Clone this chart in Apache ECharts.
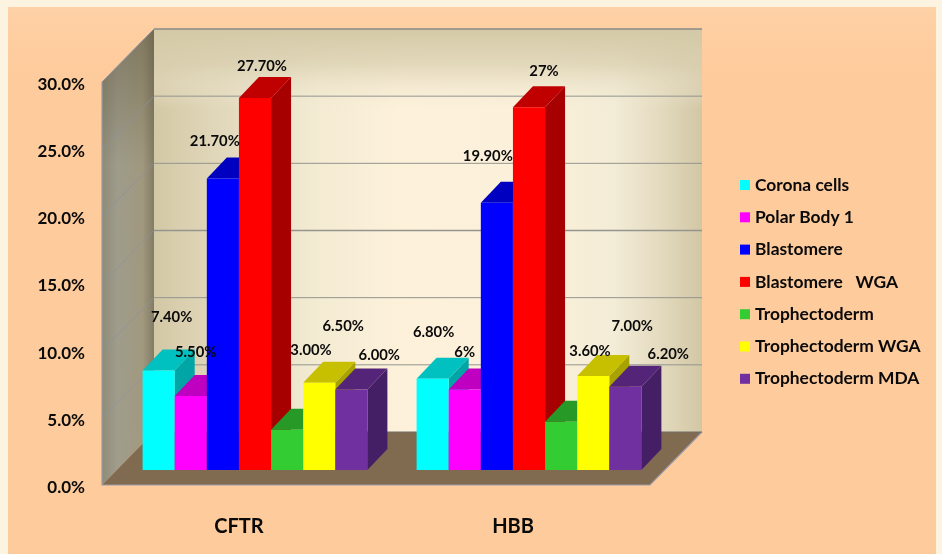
<!DOCTYPE html>
<html>
<head>
<meta charset="utf-8">
<style>
  html, body { margin: 0; padding: 0; background: #fcf3e0; }
  #chart { width: 942px; height: 554px; }
</style>
<script src="https://cdn.jsdelivr.net/npm/echarts@6/dist/echarts.min.js"></script>
</head>
<body>
<div id="chart"></div>
<script>
// Amplification rates per sample type, for the two genes.
const genes = ['CFTR', 'HBB'];
const seriesNames = ['Corona cells', 'Polar Body 1', 'Blastomere', 'Blastomere   WGA',
  'Trophectoderm', 'Trophectoderm WGA', 'Trophectoderm MDA'];
const coronaCells = [7.4, 6.8];
const polarBody1 = [5.5, 6];
const blastomere = [21.7, 19.9];
const blastomereWga = [27.7, 27];
const trophectoderm = [3, 3.6];
const trophectodermWga = [6.5, 7];
const trophectodermMda = [6, 6.2];
const cftrLabels = ['7.40%', '5.50%', '21.70%', '27.70%', '3.00%', '6.50%', '6.00%'];
const hbbLabels = ['6.80%', '6%', '19.90%', '27%', '3.60%', '7.00%', '6.20%'];
const valueTicks = [0, 5, 10, 15, 20, 25, 30];

const seriesValues = [coronaCells, polarBody1, blastomere, blastomereWga,
  trophectoderm, trophectodermWga, trophectodermMda];
const geneLabels = [cftrLabels, hbbLabels];

// Face colours of each box: front, top, right side.
const faceColors = [
  ['#00ffff', '#00c0c0', '#00a6a6'],
  ['#ff00ff', '#c000c0', '#a600a6'],
  ['#0000ff', '#0000c0', '#0000a6'],
  ['#ff0000', '#c00000', '#a60000'],
  ['#33cc33', '#269926', '#218521'],
  ['#ffff00', '#c6c000', '#a8a300'],
  ['#7030a0', '#542478', '#451f66']
];

// Oblique projection used for the walls and the boxes.
const WALL_DX = 52, WALL_DY = 53;
const BAR_DX = 20, BAR_DY = 21;
const PLANE_DX = 16, PLANE_DY = 15;
const BAR_FRACTION = 0.1172;

// Hand placement of the value labels relative to each box's front top-left corner.
const labelShiftX = [[29, 21, 8, 23, 40, 40, 44], [17, 16, 7, 31, 45, 55, 59]];
const labelShiftY = [[-53, -44, -37, -32, -79, -56, -34], [-46, -37, -46, -36, -70, -50, -32]];

function poly(points, fill, stroke) {
  return {
    type: 'polygon',
    shape: { points },
    style: { fill, stroke: stroke || null, lineWidth: stroke ? 1 : 0 },
    silent: true
  };
}

function hGrad(stops) {
  return new echarts.graphic.LinearGradient(0, 0, 1, 0, stops.map(s => ({ offset: s[0], color: s[1] })));
}

function vGrad(stops) {
  return new echarts.graphic.LinearGradient(0, 0, 0, 1, stops.map(s => ({ offset: s[0], color: s[1] })));
}

// Walls, floor and gridlines, all placed from the axis scales.
function renderRoom(params, api) {
  const c = params.coordSys;
  const left = c.x, right = c.x + c.width;
  const y0 = api.coord([0, 0])[1];
  const yTop = api.coord([0, 30])[1];
  const children = [];

  const backL = left + WALL_DX, backR = right + WALL_DX;
  const backTop = yTop - WALL_DY, backBot = y0 - WALL_DY;

  // Back wall
  children.push(poly([[backL, backTop], [backR, backTop], [backR, backBot], [backL, backBot]],
    hGrad([[0, '#d3c8a5'], [0.06, '#dbd0b0'], [0.2, '#e9e1c9'], [0.3, '#f4ebd3'], [0.45, '#fdf1da'],
      [0.72, '#fbf0da'], [0.84, '#f3ecd6'], [0.92, '#e4dbc0'], [1, '#d2c7a4']])));
  children.push(poly([[backL, backTop], [backR, backTop], [backR, backTop + 80], [backL, backTop + 80]],
    vGrad([[0, 'rgba(212,201,166,1)'], [0.45, 'rgba(218,208,176,0.75)'], [0.85, 'rgba(236,228,205,0.25)'], [1, 'rgba(240,232,210,0)']])));

  // Left wall, with a darker band towards its top
  const leftWall = [[left, yTop], [backL, backTop], [backL, backBot], [left, y0]];
  children.push(poly(leftWall,
    hGrad([[0, '#8f8c78'], [0.3, '#a09d8d'], [0.78, '#a2997f'], [1, '#837c66']])));
  children.push(poly(leftWall,
    vGrad([[0, 'rgba(95,88,62,0.5)'], [0.3, 'rgba(95,88,62,0.02)'], [1, 'rgba(95,88,62,0)']])));

  // Floor
  children.push(poly([[left, y0], [backL, backBot], [backR, backBot], [right, y0]], '#806a50'));

  // Gridlines across the side wall and the back wall
  valueTicks.forEach(v => {
    if (v === 0) return;
    const y = api.coord([0, v])[1];
    children.push({
      type: 'line',
      shape: { x1: left, y1: y, x2: backL, y2: y - WALL_DY },
      style: { stroke: '#8d90a0', lineWidth: 1, opacity: v === 30 ? 1 : 0.75 },
      silent: true
    });
    children.push({
      type: 'line',
      shape: { x1: backL, y1: y - WALL_DY, x2: backR, y2: y - WALL_DY },
      style: { stroke: v === 30 ? '#8a8a86' : '#94958f', lineWidth: v === 30 || v === 15 ? 1.6 : 1 },
      silent: true
    });
  });
  // Rim of the floor and of the left wall
  children.push({
    type: 'polyline',
    shape: { points: [[left, yTop], [left, y0], [right, y0], [backR, backBot]] },
    style: { fill: null, stroke: '#9a9ba6', lineWidth: 1.2 },
    silent: true
  });
  children.push({
    type: 'line',
    shape: { x1: backL, y1: backBot, x2: backR, y2: backBot },
    style: { stroke: '#6f6d68', lineWidth: 1 },
    silent: true
  });
  return { type: 'group', children };
}

// One box per gene for a given sample type.
function boxRenderer(seriesIndex) {
  return function (params, api) {
    const geneIndex = api.value(0);
    const value = api.value(1);
    const center = api.coord([geneIndex, 0]);
    const bw = api.size([1, 0])[0] * BAR_FRACTION;
    const xl = center[0] + (seriesIndex - 3.5) * bw + PLANE_DX;
    const xr = xl + bw;
    const yb = center[1] - PLANE_DY;
    const yt = yb - api.size([0, value])[1];
    const colors = faceColors[seriesIndex];
    return {
      type: 'group',
      children: [
        poly([[xr, yt], [xr + BAR_DX, yt - BAR_DY], [xr + BAR_DX, yb - BAR_DY], [xr, yb]], colors[2]),
        poly([[xl, yt], [xr, yt], [xr + BAR_DX, yt - BAR_DY], [xl + BAR_DX, yt - BAR_DY]], colors[1]),
        poly([[xl, yt], [xr, yt], [xr, yb], [xl, yb]], colors[0])
      ]
    };
  };
}

// Value labels sit above every box, so they get a series of their own drawn last.
function renderLabel(params, api) {
  const geneIndex = api.value(0);
  const seriesIndex = api.value(1);
  const value = api.value(2);
  const center = api.coord([geneIndex, 0]);
  const bw = api.size([1, 0])[0] * BAR_FRACTION;
  const xl = center[0] + (seriesIndex - 3.5) * bw + PLANE_DX;
  const yt = center[1] - PLANE_DY - api.size([0, value])[1];
  return {
    type: 'text',
    silent: true,
    style: {
      x: xl + labelShiftX[geneIndex][seriesIndex],
      y: yt + labelShiftY[geneIndex][seriesIndex],
      text: geneLabels[geneIndex][seriesIndex],
      align: 'center',
      verticalAlign: 'middle',
      font: 'bold 14.8px Lato',
      fill: '#0a0a0a'
    }
  };
}

const series = [{
  type: 'custom',
  silent: true,
  renderItem: renderRoom,
  data: [[0, 0]],
  z: 1
}];

seriesNames.forEach((name, s) => {
  series.push({
    type: 'custom',
    name,
    silent: true,
    itemStyle: { color: faceColors[s][0] },
    renderItem: boxRenderer(s),
    data: seriesValues[s].map((v, g) => [g, v]),
    encode: { x: 0, y: 1 },
    z: 2 + s
  });
});

const labelData = [];
genes.forEach((g, gi) => seriesValues.forEach((vals, si) => labelData.push([gi, si, vals[gi]])));
series.push({
  type: 'custom',
  silent: true,
  renderItem: renderLabel,
  data: labelData,
  encode: { x: 0, y: 2 },
  z: 20
});

const chart = echarts.init(document.getElementById('chart'), null, { renderer: 'canvas' });
chart.setOption({
  animation: false,
  tooltip: { show: false },
  textStyle: { fontFamily: 'Lato' },
  graphic: [{
    type: 'rect',
    z: -10,
    silent: true,
    shape: { x: 8, y: 7, width: 928, height: 547 },
    style: {
      fill: new echarts.graphic.LinearGradient(0, 0, 0, 1, [
        { offset: 0, color: '#fed1a6' },
        { offset: 0.12, color: '#fecb9c' },
        { offset: 1, color: '#fecb9c' }
      ])
    }
  }],
  grid: { left: 102, top: 82, width: 548, height: 403, containLabel: false },
  xAxis: {
    type: 'category',
    data: genes,
    axisLine: { show: false },
    axisTick: { show: false },
    axisLabel: { margin: 32, fontFamily: 'Lato', fontWeight: 'bold', fontSize: 20, color: '#0a0a0a' }
  },
  yAxis: {
    type: 'value',
    min: 0,
    max: 30,
    interval: 5,
    axisLine: { show: false },
    axisTick: { show: false },
    splitLine: { show: false },
    axisLabel: {
      margin: 17,
      fontFamily: 'Lato',
      fontWeight: 'bold',
      fontSize: 17,
      color: '#0a0a0a',
      verticalAlign: 'top',
      lineHeight: 5,
      formatter: v => v.toFixed(1) + '%'
    }
  },
  legend: {
    orient: 'vertical',
    left: 740,
    top: 176,
    padding: 0,
    icon: 'rect',
    itemWidth: 10,
    itemHeight: 10,
    itemGap: 14.3,
    selectedMode: false,
    data: seriesNames,
    textStyle: { fontFamily: 'Lato', fontWeight: 'bold', fontSize: 17.4, lineHeight: 18, color: '#0a0a0a' }
  },
  series
});
</script>
</body>
</html>
